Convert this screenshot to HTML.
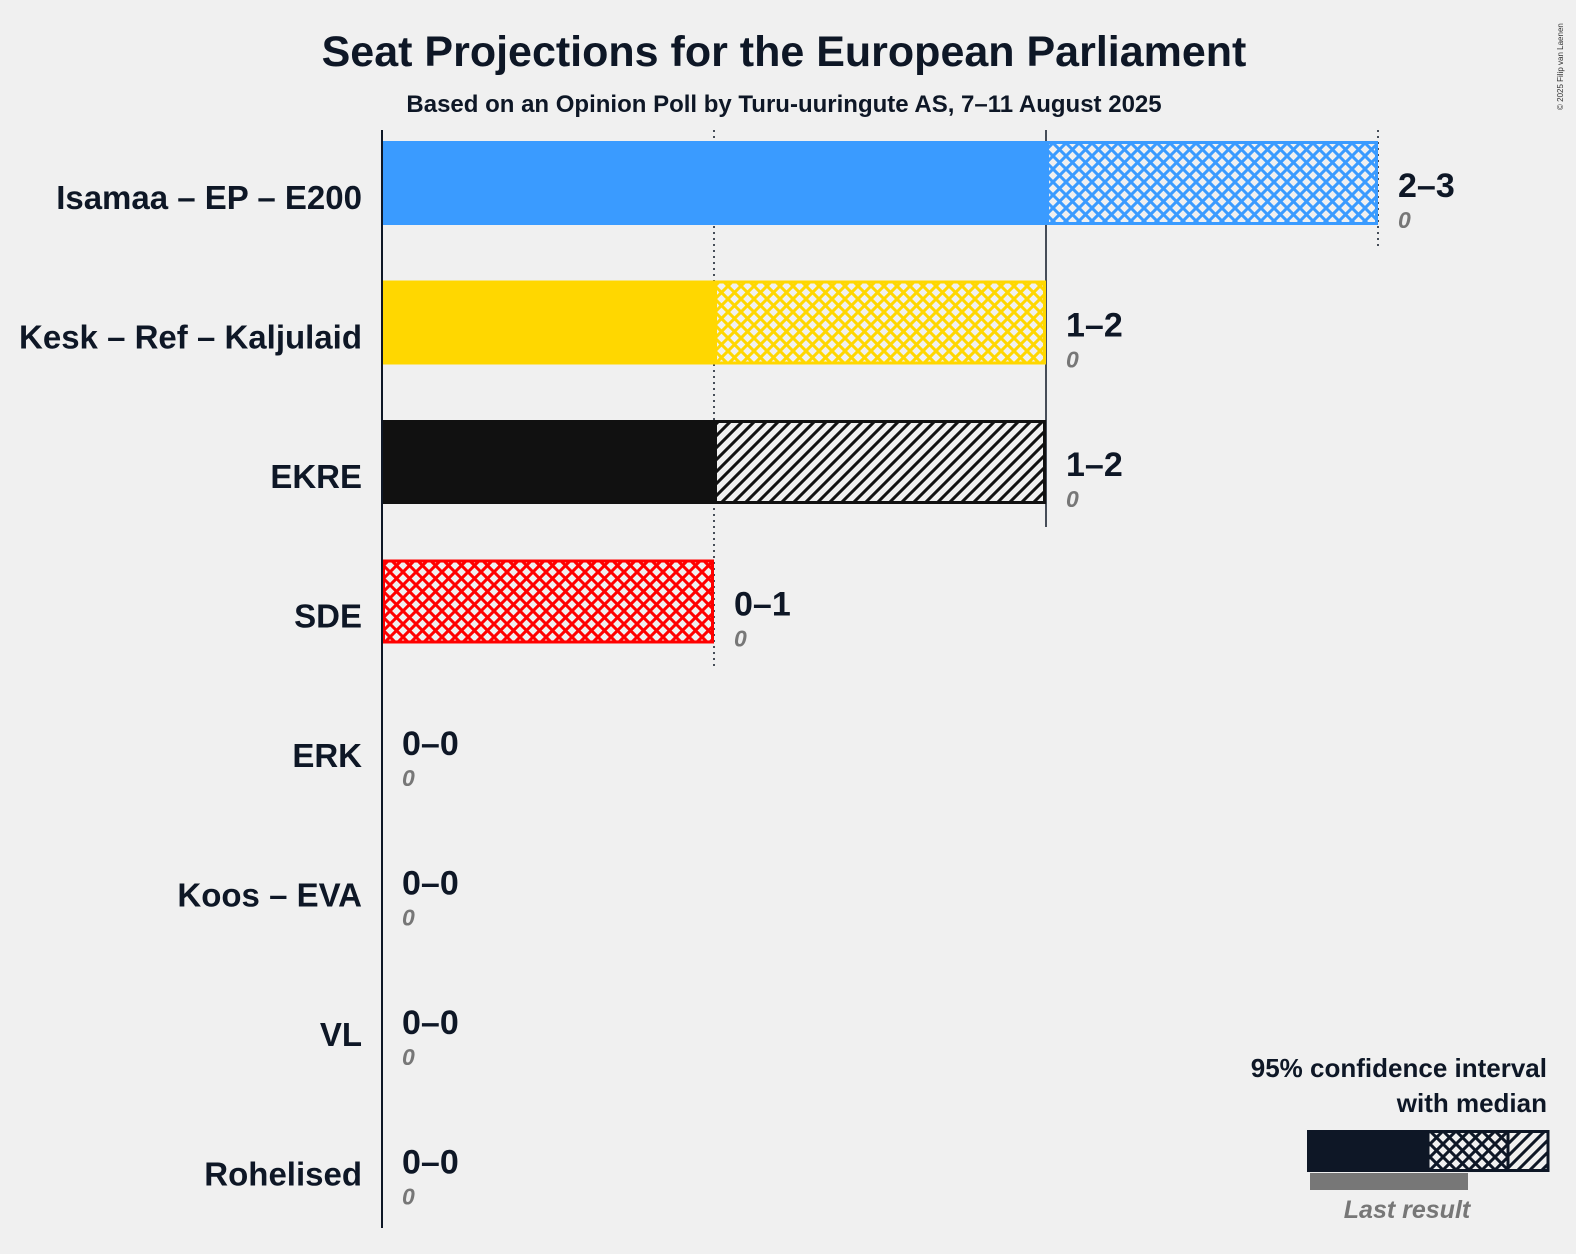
<!DOCTYPE html>
<html><head><meta charset="utf-8"><style>
html,body{margin:0;padding:0;background:#f0f0f0}
svg{display:block;font-family:"Liberation Sans",sans-serif}
</style></head><body>
<svg id="chart" width="1576" height="1254" viewBox="0 0 1576 1254" xmlns="http://www.w3.org/2000/svg">
<defs>
<pattern id="xh-blue" patternUnits="userSpaceOnUse" width="13" height="13"><rect width="13" height="13" fill="#f0f0f0"/><path d="M-2,-2L15,15M15,-2L-2,15" stroke="#3a9bff" stroke-width="3"/></pattern>
<pattern id="xh-yellow" patternUnits="userSpaceOnUse" width="13" height="13"><rect width="13" height="13" fill="#f0f0f0"/><path d="M-2,-2L15,15M15,-2L-2,15" stroke="#ffd700" stroke-width="3"/></pattern>
<pattern id="xh-red" patternUnits="userSpaceOnUse" width="13" height="13"><rect width="13" height="13" fill="#f0f0f0"/><path d="M-2,-2L15,15M15,-2L-2,15" stroke="#ff0000" stroke-width="3"/></pattern>
<pattern id="xh-black" patternUnits="userSpaceOnUse" width="13" height="13"><rect width="13" height="13" fill="#f0f0f0"/><path d="M-2,-2L15,15M15,-2L-2,15" stroke="#111" stroke-width="3"/></pattern>
<pattern id="dh-black" patternUnits="userSpaceOnUse" width="12" height="12"><rect width="12" height="12" fill="#f0f0f0"/><path d="M0,12L12,0M-3,3L3,-3M9,15L15,9" stroke="#111" stroke-width="3"/></pattern>
<pattern id="dh-legend" patternUnits="userSpaceOnUse" width="12" height="12"><rect width="12" height="12" fill="#f0f0f0"/><path d="M0,12L12,0M-3,3L3,-3M9,15L15,9" stroke="#0e1726" stroke-width="3"/></pattern>
<pattern id="xh-legend" patternUnits="userSpaceOnUse" width="13" height="13"><rect width="13" height="13" fill="#f0f0f0"/><path d="M-2,-2L15,15M15,-2L-2,15" stroke="#0e1726" stroke-width="3"/></pattern>
</defs>
<text x="784" y="66" text-anchor="middle" font-size="43" font-weight="bold" fill="#0e1726">Seat Projections for the European Parliament</text>
<text x="784" y="112" text-anchor="middle" font-size="24" font-weight="bold" fill="#0e1726">Based on an Opinion Poll by Turu-uuringute AS, 7–11 August 2025</text>
<text transform="translate(1563,110) rotate(-90)" font-size="8" fill="#333">© 2025 Filip van Laenen</text>
<g id="grid"></g>
<g id="bars"></g>
<line x1="382" y1="130" x2="382" y2="1228" stroke="#0e1726" stroke-width="2"/>
<g>
<text x="1547" y="1077" text-anchor="end" font-size="26" font-weight="bold" fill="#0e1726">95% confidence interval</text>
<text x="1547" y="1112" text-anchor="end" font-size="26" font-weight="bold" fill="#0e1726">with median</text>
<rect x="1307" y="1130" width="121" height="42" fill="#0e1726"/>
<rect x="1428" y="1131.5" width="80" height="39" fill="url(#xh-legend)" stroke="#0e1726" stroke-width="3"/>
<rect x="1508" y="1131.5" width="40" height="39" fill="url(#dh-legend)" stroke="#0e1726" stroke-width="3"/>
<rect x="1310" y="1173" width="158" height="17" fill="#777"/>
<text x="1407" y="1218" text-anchor="middle" font-size="25" font-style="italic" font-weight="bold" fill="#777">Last result</text>
</g>
<script>
const parties = ["Isamaa – EP – E200","Kesk – Ref – Kaljulaid","EKRE","SDE","ERK","Koos – EVA","VL","Rohelised"];
const lowSeats = [2,1,1,0,0,0,0,0];
const medianSeats = [3,2,1,1,0,0,0,0];
const highSeats = [3,2,2,1,0,0,0,0];
const lastResult = [0,0,0,0,0,0,0,0];
const colors = ["#3a9bff","#ffd700","#111111","#ff0000","#888","#888","#888","#888"];
const xhPat = ["xh-blue","xh-yellow","xh-black","xh-red","xh-black","xh-black","xh-black","xh-black"];
const NS="http://www.w3.org/2000/svg";
const x = v => 382 + v*332;
const rowY = i => 183 + i*139.5;
const barH = 84;
function mk(tag, attrs, parent){const e=document.createElementNS(NS,tag);for(const k in attrs)e.setAttribute(k,attrs[k]);parent.appendChild(e);return e;}
const grid=document.getElementById('grid'), bars=document.getElementById('bars');
const maxS=Math.max(...highSeats);
for(let s=1;s<=maxS;s++){
  let last=0; highSeats.forEach((h,i)=>{if(h>=s)last=i;});
  const g=mk('line',{x1:x(s),y1:130,x2:x(s),y2:rowY(last)+65,stroke:'#0e1726','stroke-width':1.5,'stroke-dasharray':s===2?'none':'2,4'},grid);
  
  
}
parties.forEach((p,i)=>{
  const cy=rowY(i), top=cy-barH/2;
  const lab=mk('text',{x:362,y:cy+26,'text-anchor':'end','font-size':33,'font-weight':'bold',fill:'#0e1726'},bars);
  lab.textContent=p;
  
  
  if(lowSeats[i]>0){
    const r=mk('rect',{x:x(0)-1,y:top,width:x(lowSeats[i])-x(0)+1,height:barH,fill:colors[i]},bars);
    
    
  }
  if(medianSeats[i]>lowSeats[i]){
    const r=mk('rect',{x:x(lowSeats[i])+1.5,y:top+1.5,width:x(medianSeats[i])-x(lowSeats[i])-3,height:barH-3,fill:'url(#'+xhPat[i]+')',stroke:colors[i],'stroke-width':3},bars);
    
    
  }
  if(highSeats[i]>medianSeats[i]){
    const r=mk('rect',{x:x(medianSeats[i])+1.5,y:top+1.5,width:x(highSeats[i])-x(medianSeats[i])-3,height:barH-3,fill:'url(#dh-black)',stroke:colors[i],'stroke-width':3},bars);
    
    
  }
  const ex=x(highSeats[i])+20;
  const t=mk('text',{x:ex,y:cy+14,'font-size':34,'font-weight':'bold',fill:'#0e1726'},bars);
  t.textContent=lowSeats[i]+'–'+highSeats[i];
  
  
  const lr=mk('text',{x:ex,y:cy+45,'font-size':23,'font-style':'italic','font-weight':'bold',fill:'#777'},bars);
  lr.textContent=lastResult[i];
  
  
});
</script>
</svg>
</body></html>
